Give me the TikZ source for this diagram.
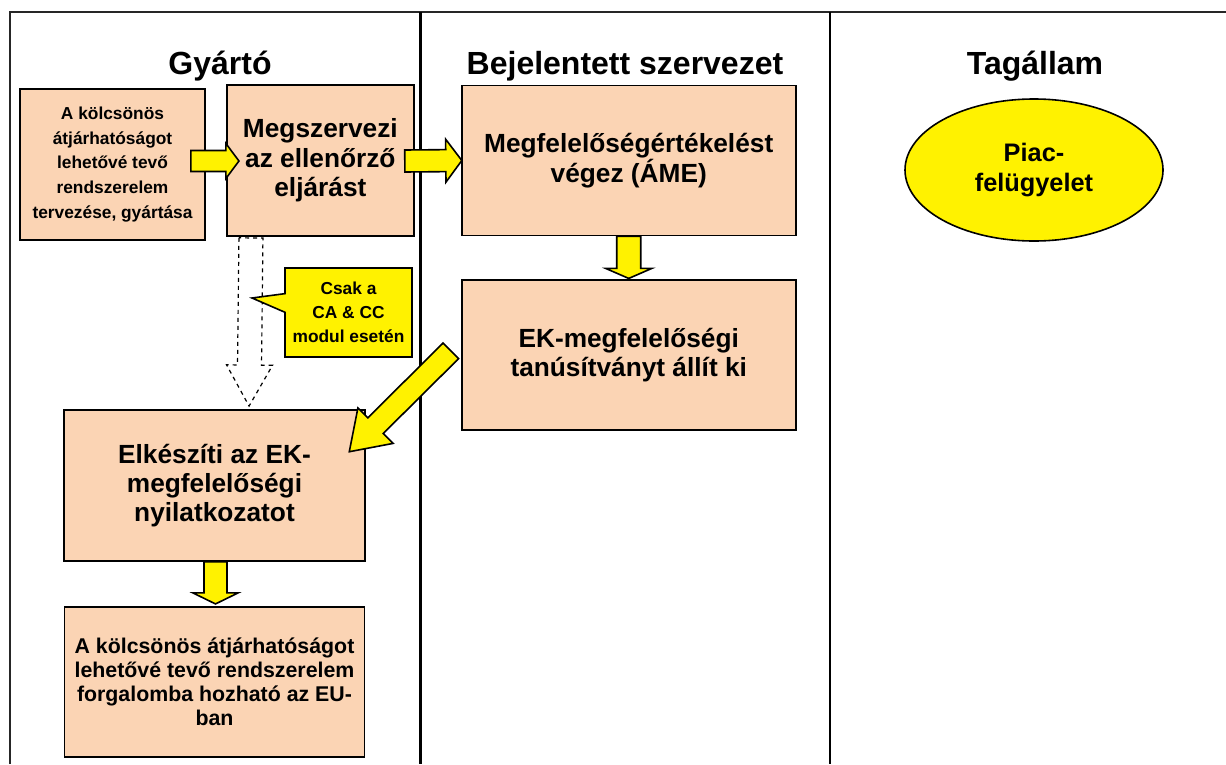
\documentclass[tikz,border=0pt]{standalone}
\usepackage{fontspec}
\setmainfont{Liberation Sans}
\usetikzlibrary{positioning,calc,shapes.geometric,shapes.callouts}

\definecolor{boxfill}{RGB}{251,212,180}

\tikzset{
  fat shaft/.store in=\fatsw, fat head/.store in=\fathw, fat tip/.store in=\fathl,
  fat shaft=8pt, fat head=16pt, fat tip=9pt,
  fatarrow/.style={draw=black, fill=yellow, line width=1.2pt, line join=miter,
    to path={let \p1=(\tikztostart), \p2=(\tikztotarget),
      \n1={atan2(\y2-\y1,\x2-\x1)}, \n2={veclen(\x2-\x1,\y2-\y1)} in
      ([shift={(\p1)},rotate=\n1]0pt,-\fatsw)
      -- ([shift={(\p1)},rotate=\n1]{\n2-\fathl},-\fatsw)
      -- ([shift={(\p1)},rotate=\n1]{\n2-\fathl},-\fathw)
      -- ([shift={(\p1)},rotate=\n1]{\n2},0pt)
      -- ([shift={(\p1)},rotate=\n1]{\n2-\fathl},\fathw)
      -- ([shift={(\p1)},rotate=\n1]{\n2-\fathl},\fatsw)
      -- ([shift={(\p1)},rotate=\n1]0pt,\fatsw) -- cycle}},
  box/.style={draw, line width=1.4pt, fill=boxfill, align=center, inner sep=2pt,
    font=\bfseries\fontsize{19.7}{22}\selectfont},
  coltitle/.style={anchor=base, font=\bfseries\fontsize{24}{28}\selectfont},
}

\begin{document}
\begin{tikzpicture}[x=0.75pt,y=-0.75pt]
  \useasboundingbox (0,0) rectangle (1226,764);

  % columns
  \draw[line width=1.5pt, black!85] (10,764) -- (10,12) -- (1226,12);
  \draw[line width=2.25pt] (420,12) -- (420,764);
  \draw[line width=1.5pt] (830,12) -- (830,764);

  \node[coltitle] (gyarto) at (220,74) {Gyártó};
  \node[coltitle] (bejel) at (625,74) {Bejelentett szervezet};
  \node[coltitle] (tagallam) at (1035,74) {Tagállam};

  % boxes
  \node[box, minimum width=138.75pt, minimum height=113.25pt,
        font=\bfseries\fontsize{13}{18.5}\selectfont] (A) at (112.5,164.5)
    {A kölcsönös\\átjárhatóságot\\lehetővé tevő\\rendszerelem\\tervezése, gyártása};
  \node[box, minimum width=140.25pt, minimum height=113.25pt, right=15pt of A, yshift=3pt] (B)
    {Megszervezi\\az ellenőrző\\eljárást};
  \node[box, minimum width=250.5pt, minimum height=112.5pt, right=34.5pt of B] (C)
    {Megfelelőségértékelést\\végez (ÁME)};
  \node[box, minimum width=250.5pt, minimum height=112.5pt, below=32.25pt of C] (D)
    {EK-megfelelőségi\\tanúsítványt állít ki};
  \node[box, minimum width=225.75pt, minimum height=113.25pt] (E) at (214.5,485.5)
    {Elkészíti az EK-\\megfelelőségi\\nyilatkozatot};
  \node[box, minimum width=225pt, minimum height=112.5pt, below=33pt of E,
        font=\bfseries\fontsize{16}{18}\selectfont] (F)
    {A kölcsönös átjárhatóságot\\lehetővé tevő rendszerelem\\forgalomba hozható az EU-\\ban};

  \node[ellipse, draw, line width=1.2pt, fill=yellow, minimum width=193.5pt, minimum height=106.5pt,
        inner sep=0pt, align=center, font=\bfseries\fontsize{19}{23}\selectfont] (piac) at (1034,170)
    {Piac-\\felügyelet};

  % arrows
  \draw[fatarrow, fat shaft=7.9pt, fat head=13.1pt, fat tip=9.75pt]
    ($(A.east)+(-15,-3.5)$) to ($(B.west)+(13,0.5)$);
  \draw[fatarrow, fat shaft=8.25pt, fat head=16.1pt, fat tip=12pt]
    ($(B.east)+(-10,0.5)$) to ($(C.west)+(1,0)$);
  \draw[fatarrow, fat shaft=9pt, fat head=17.25pt, fat tip=7.5pt]
    (C.south) to ($(D.north)+(0,-1)$);
  \draw[fatarrow, fat shaft=8.25pt, fat head=18.75pt, fat tip=27.75pt]
    ($(D.west)+(-10,-4.5)$) to ($(E.north east)+(-17,43)$);
  \draw[fatarrow, fat shaft=8.6pt, fat head=16.9pt, fat tip=8.25pt]
    ($(E.south)+(1,0)$) to ($(F.north)+(1,-2)$);
  \draw[fatarrow, fill=none, dashed, line width=0.9pt, fat shaft=9pt, fat head=17.25pt, fat tip=30.75pt]
    ($(B.south west)+(25,1)$) to ($(E.north west)+(186,-3)$);

  \node[rectangle callout, draw, line width=1.2pt, fill=yellow, minimum width=95.25pt, minimum height=66.75pt,
        callout absolute pointer={(252,298)}, callout pointer width=14pt, inner sep=1pt,
        align=center, font=\bfseries\fontsize{13}{18}\selectfont] (csak) at (348.5,312.5)
    {Csak a\\CA \& CC\\modul esetén};
\end{tikzpicture}
\end{document}
